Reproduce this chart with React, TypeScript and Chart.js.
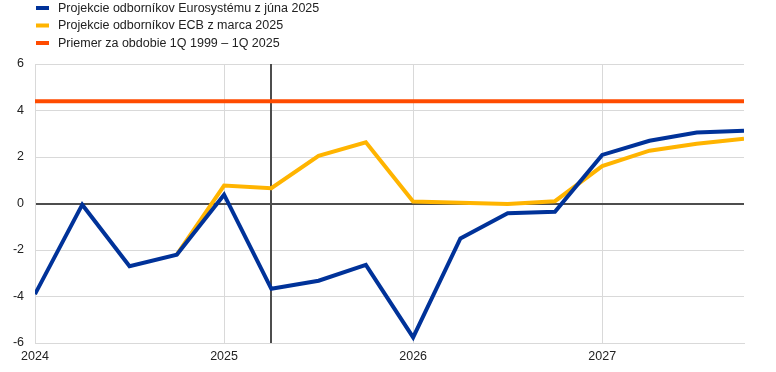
import React, { useEffect, useRef } from "react";
import { Chart, registerables } from "chart.js";

Chart.register(...registerables);

const quarters = [
  2024, 2024.25, 2024.5, 2024.75,
  2025, 2025.25, 2025.5, 2025.75,
  2026, 2026.25, 2026.5, 2026.75,
  2027, 2027.25, 2027.5, 2027.75,
];
const eurosystemJune = [
  -3.9, -0.05, -2.7, -2.2,
  0.38, -3.67, -3.32, -2.64,
  -5.76, -1.5, -0.42, -0.36,
  2.09, 2.7, 3.05, 3.13,
];
const ecbMarch: (number | null)[] = [
  null, null, null, -2.2,
  0.77, 0.66, 2.05, 2.63,
  0.09, 0.03, -0.02, 0.1,
  1.61, 2.27, 2.57, 2.79,
];
const longRunAverage = 4.4;
const yearTicks = [2024, 2025, 2026, 2027];
const yTicks = [-6, -4, -2, 0, 2, 4, 6];
const projectionStart = 2025.25;

const seriesLabels = [
  "Projekcie odborníkov Eurosystému z júna 2025",
  "Projekcie odborníkov ECB z marca 2025",
  "Priemer za obdobie 1Q 1999 – 1Q 2025",
];
const seriesColors = ["#003299", "#FFB400", "#FF4B00"];

const FONT = "Arial, 'Liberation Sans', sans-serif";

export default function App() {
  const ref = useRef<HTMLCanvasElement | null>(null);

  useEffect(() => {
    document.body.style.margin = "0";
    const canvas = ref.current;
    if (!canvas) return;

    const toPts = (arr: (number | null)[]) =>
      quarters.map((q, i) => ({ x: q, y: arr[i] }));

    const legendPlugin = {
      id: "stackLegend",
      afterDraw(chart: any) {
        const ctx = chart.ctx;
        ctx.save();
        ctx.font = `12.5px ${FONT}`;
        ctx.textBaseline = "middle";
        const rows = [8, 25.5, 43];
        seriesLabels.forEach((label, i) => {
          const y = rows[i];
          ctx.fillStyle = seriesColors[i];
          ctx.fillRect(36, y - 2, 13, 4);
          ctx.fillStyle = "#222";
          ctx.fillText(label, 58, y + 0.5);
        });
        ctx.restore();
      },
    };

    const vlinePlugin = {
      id: "vline",
      beforeDatasetsDraw(chart: any) {
        const { ctx, chartArea, scales } = chart;
        const x = Math.round(scales.x.getPixelForValue(projectionStart));
        ctx.save();
        ctx.strokeStyle = "#4d4d4d";
        ctx.lineWidth = 2;
        ctx.beginPath();
        ctx.moveTo(x, chartArea.top);
        ctx.lineTo(x, chartArea.bottom);
        ctx.stroke();
        ctx.restore();
      },
    };

    const chart = new Chart(canvas, {
      type: "line",
      data: {
        datasets: [
          {
            label: seriesLabels[0],
            data: toPts(eurosystemJune),
            borderColor: seriesColors[0],
            borderWidth: 4,
            pointRadius: 0,
            tension: 0,
            order: 1,
          },
          {
            label: seriesLabels[1],
            data: toPts(ecbMarch),
            borderColor: seriesColors[1],
            borderWidth: 4,
            pointRadius: 0,
            tension: 0,
            order: 2,
          },
          {
            label: seriesLabels[2],
            data: quarters.map((q) => ({ x: q, y: longRunAverage })),
            borderColor: seriesColors[2],
            borderWidth: 4,
            pointRadius: 0,
            tension: 0,
            order: 3,
          },
        ],
      },
      options: {
        animation: false,
        responsive: false,
        layout: { padding: { top: 64, right: 32, left: 0, bottom: 0 } },
        plugins: {
          legend: { display: false },
          tooltip: { enabled: false },
        },
        scales: {
          x: {
            type: "linear",
            min: 2024,
            max: 2027.75,
            afterBuildTicks: (scale: any) => {
              scale.ticks = yearTicks.map((v) => ({ value: v }));
            },
            afterFit: (scale: any) => {
              scale.height = 29;
            },
            ticks: {
              callback: (v: any) => String(v),
              font: { family: FONT, size: 12.5 },
              color: "#222",
              padding: 6,
              maxRotation: 0,
            },
            grid: {
              color: "#d9d9d9",
              lineWidth: 1,
              tickLength: 0,
            },
            border: { color: "#d9d9d9" },
          },
          y: {
            min: -6,
            max: 6,
            afterBuildTicks: (scale: any) => {
              scale.ticks = yTicks.map((v) => ({ value: v }));
            },
            afterFit: (scale: any) => {
              scale.width = 35;
            },
            ticks: {
              font: { family: FONT, size: 12.5 },
              color: "#222",
              padding: 11,
            },
            grid: {
              color: (c: any) => (c.tick && c.tick.value === 0 ? "#4d4d4d" : "#d9d9d9"),
              lineWidth: (c: any) => (c.tick && c.tick.value === 0 ? 2 : 1),
              tickLength: 0,
            },
            border: { color: "#d9d9d9" },
          },
        },
      },
      plugins: [legendPlugin, vlinePlugin],
    });

    return () => chart.destroy();
  }, []);

  return (
    <div style={{ width: 776, height: 372 }}>
      <canvas ref={ref} width={776} height={372} />
    </div>
  );
}
